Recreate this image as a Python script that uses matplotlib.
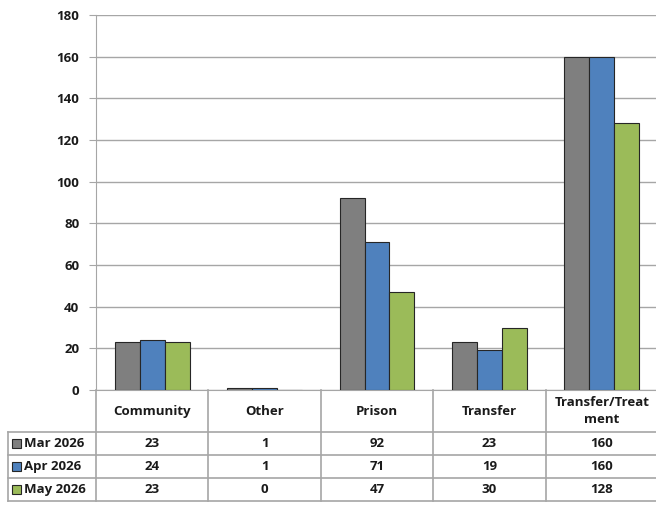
import numpy as np
import matplotlib.pyplot as plt
from matplotlib.patches import Rectangle

plt.rcParams['font.family'] = ['Open Sans', 'DejaVu Sans']
plt.rcParams['font.weight'] = 'bold'

categories = ['Community', 'Other', 'Prison', 'Transfer', 'Transfer/Treat\nment']
series = ['Mar 2026', 'Apr 2026', 'May 2026']
mar = [23, 1, 92, 23, 160]
apr = [24, 1, 71, 19, 160]
may = [23, 0, 47, 30, 128]
colors = ['#7F7F7F', '#4F81BD', '#9BBB59']
grid_col = '#A6A6A6'
fs = 9.5

W, H = 656, 511
fig = plt.figure(figsize=(W / 100, H / 100), dpi=100)

# main plot area in pixels
x0, x1 = 96, 658
y_top, y_zero = 15, 390
ax = fig.add_axes([x0 / W, 1 - y_zero / H, (x1 - x0) / W, (y_zero - y_top) / H])

x = np.arange(len(categories))
bw = 0.222
for i, vals in enumerate([mar, apr, may]):
    ax.bar(x + (i - 1) * bw, vals, bw, color=colors[i], edgecolor='#262626',
           linewidth=0.8, zorder=3)

ax.set_xlim(-0.5, 4.5)
ax.set_ylim(0, 180)
ax.set_yticks(range(0, 181, 20))
ax.tick_params(axis='y', length=5, color=grid_col, labelsize=fs, pad=7,
               labelcolor='#1a1a1a')
ax.tick_params(axis='x', length=0, labelbottom=False)
ax.yaxis.grid(True, color=grid_col, linewidth=1)
for s in ['top', 'right']:
    ax.spines[s].set_visible(False)
ax.spines['left'].set_color(grid_col)
ax.spines['bottom'].set_color(grid_col)
for lab in ax.get_yticklabels():
    lab.set_fontweight('bold')

# data table below
tl, tr = 8, 658
t_top, t_bot = 390, 501
tax = fig.add_axes([tl / W, 1 - t_bot / H, (tr - tl) / W, (t_bot - t_top) / H])
tax.set_xlim(tl, tr)
tax.set_ylim(t_bot, t_top)
tax.axis('off')

col_w = (x1 - x0) / len(categories)
rows = [t_top, 432, 455, 478, 501]
lc = '#A6A6A6'
lw = 1.2
# horizontal lines
for r in rows[1:]:
    tax.plot([tl, tr], [r, r], color=lc, lw=lw, clip_on=False)
# verticals
tax.plot([tl, tl], [rows[1], t_bot], color=lc, lw=lw, clip_on=False)
for j in range(len(categories) + 1):
    xx = x0 + j * col_w
    tax.plot([xx, xx], [t_top, t_bot], color=lc, lw=lw, clip_on=False)

# header text
for j, c in enumerate(categories):
    tax.text(x0 + (j + 0.5) * col_w, (rows[0] + rows[1]) / 2, c, ha='center',
             va='center', fontsize=fs, fontweight='bold', linespacing=1.45,
             color='#1a1a1a')

# rows
for i, (name, vals) in enumerate(zip(series, [mar, apr, may])):
    yc = (rows[i + 1] + rows[i + 2]) / 2
    tax.add_patch(Rectangle((12, yc - 4.5), 9, 9, facecolor=colors[i],
                            edgecolor='#262626', lw=0.8, clip_on=False))
    tax.text(24, yc, name, ha='left', va='center', fontsize=fs, fontweight='bold',
             color='#1a1a1a')
    for j, v in enumerate(vals):
        tax.text(x0 + (j + 0.5) * col_w, yc, str(v), ha='center', va='center',
                 fontsize=fs, fontweight='bold', color='#1a1a1a')

fig.savefig('out.png', dpi=100)
